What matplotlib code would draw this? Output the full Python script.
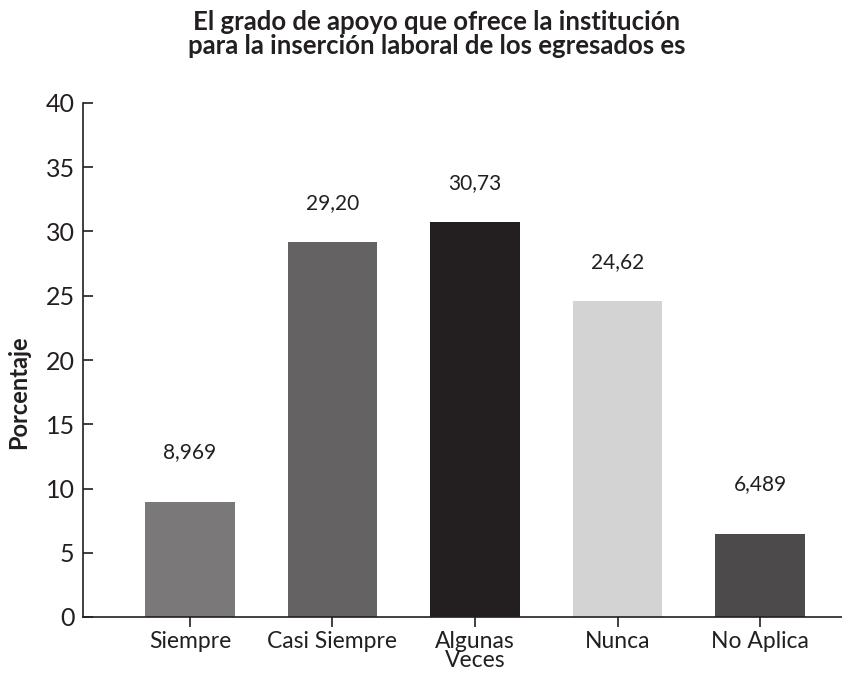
import matplotlib.pyplot as plt

# data
categorias = ["Siempre", "Casi Siempre", "Algunas\nVeces", "Nunca", "No Aplica"]
porcentajes = [8.969, 29.20, 30.73, 24.62, 6.489]
etiquetas = ["8,969", "29,20", "30,73", "24,62", "6,489"]
colores = ["#7a7878", "#656263", "#231f20", "#d3d3d3", "#4d4a4b"]

plt.rcParams["font.family"] = ["Lato", "DejaVu Sans"]

fig = plt.figure(figsize=(8.42, 6.73), dpi=100)
ax = fig.add_axes([83 / 842, 56 / 673, 759 / 842, 514 / 673])

x = range(len(categorias))
bars = ax.bar(x, porcentajes, width=0.63, color=colores)

# value labels above bars (small bars get a bit more room, like the original)
for b, txt, val in zip(bars, etiquetas, porcentajes):
    off = 39 if val > 15 else 50
    ax.annotate(txt, (b.get_x() + b.get_width() / 2, val),
                xytext=(0, off), textcoords="offset pixels",
                ha="center", va="center", fontsize=15, color="#231f20")

ax.set_ylim(0, 40)
ax.set_xlim(-0.75, 4.575)
ax.set_yticks(range(0, 41, 5))
ax.set_xticks(list(x))
ax.set_xticklabels(categorias, fontsize=16.5, linespacing=0.9)
ax.tick_params(axis="y", direction="in", length=7, width=1.2, labelsize=18,
               colors="#231f20", pad=6)
ax.tick_params(axis="x", direction="out", length=7, width=1.2, colors="#231f20",
               pad=3)

for s in ["top", "right"]:
    ax.spines[s].set_visible(False)
for s in ["left", "bottom"]:
    ax.spines[s].set_color("#231f20")
    ax.spines[s].set_linewidth(1.2)

ax.set_ylabel("Porcentaje", fontsize=17, fontweight="bold", color="#231f20")
ax.yaxis.set_label_coords(-0.07, 0.438)

fig.text(0.519, 0.949, "El grado de apoyo que ofrece la institución\n"
         "para la inserción laboral de los egresados es",
         ha="center", va="center", fontsize=18.5, fontweight="bold",
         color="#231f20", linespacing=1.0)

plt.savefig("out.png", dpi=100)
